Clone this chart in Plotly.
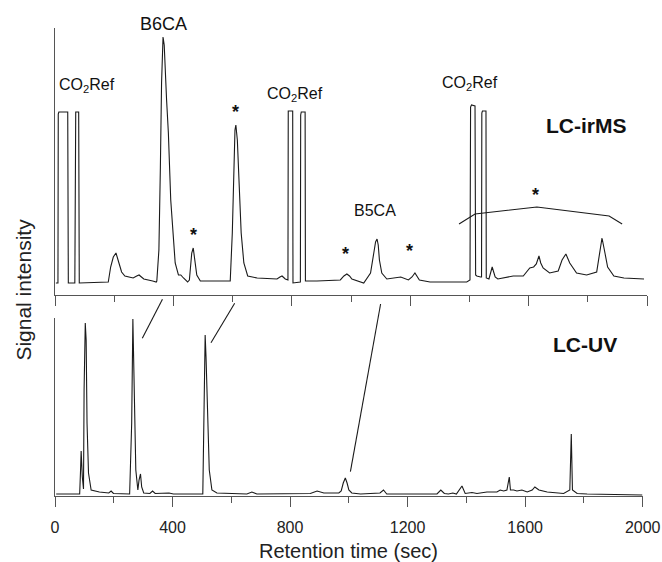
import plotly.graph_objects as go

# ---- LC-irMS trace (time in sec, signal in arbitrary units) ----
ms_time = [3, 10, 11, 13, 43, 45, 67, 68, 70, 80, 82,
           180, 188, 197, 206, 216, 225, 236, 250, 264, 276, 284, 292, 300, 330, 342,
           344, 351, 356, 360, 365, 369, 377, 383, 391, 398, 406, 417, 425, 434, 448,
           454, 459, 462, 467, 473, 479, 491, 592,
           599, 604, 608, 611, 616, 622, 629, 638, 651, 683, 750, 760, 767, 778, 787,
           788, 803, 804, 829, 830, 832, 845, 846, 885, 964, 976, 986, 995, 1003, 1043, 1066, 1077, 1083, 1088,
           1092, 1096, 1104, 1121, 1155, 1168, 1194, 1206, 1216, 1223, 1231, 1267, 1391, 1402,
           1404, 1407, 1419, 1421, 1425, 1438, 1441, 1442, 1444, 1456, 1457, 1466, 1472, 1477, 1482,
           1487, 1496, 1525, 1548, 1582, 1604, 1617, 1626, 1635, 1641, 1649, 1671, 1700, 1713, 1726,
           1733, 1739, 1762, 1796, 1830, 1840, 1848, 1856, 1867, 1888, 1922, 1990]
ms_signal = [12, 12, 181, 183, 183, 12, 12, 180, 183, 183, 12,
             13, 28, 38, 42, 32, 23, 19, 18, 17, 19, 20, 18, 16, 14, 13,
             14, 45, 128, 212, 258, 250, 195, 162, 95, 62, 32, 20, 20, 17, 13,
             15, 32, 42, 47, 35, 20, 14, 14,
             62, 128, 165, 170, 155, 112, 62, 32, 19, 17, 16, 18, 19, 16, 15,
             184, 184, 12, 13, 180, 183, 183, 14, 14, 15, 19, 21, 19, 16, 12, 22, 42, 53, 56,
             50, 35, 22, 16, 17, 18, 15, 18, 22, 19, 15, 13, 13, 15,
             188, 190, 189, 20, 19, 18, 18, 182, 184, 184, 17, 16, 22, 28, 23,
             18, 16, 18, 19, 19, 27, 28, 31, 39, 32, 27, 22, 24, 35, 41,
             37, 32, 22, 20, 23, 42, 57, 45, 28, 19, 17, 16]

# ---- LC-UV trace ----
uv_time = [4, 84, 87, 89, 93, 97, 99, 101, 103, 106, 109, 114, 123, 151, 183, 191, 199,
           254, 261, 265, 269, 275, 282, 286, 291, 295, 302, 323, 332, 341, 388, 403,
           503, 506, 511, 514, 519, 525, 534, 551, 653, 670, 687, 869, 892, 915, 966,
           974, 981, 988, 994, 1000, 1010, 1040, 1106, 1118, 1129, 1300, 1313, 1325,
           1339, 1354, 1366, 1385, 1396, 1419, 1436, 1470, 1504, 1515, 1527, 1538, 1546,
           1550, 1561, 1572, 1589, 1607, 1624, 1633, 1647, 1675, 1731, 1752, 1757, 1761,
           1777, 1811, 1999]
uv_signal = [2, 2, 26, 45, 19, 7, 106, 169, 173, 156, 73, 23, 6, 4, 3, 5, 2.5,
             2, 73, 177, 106, 26, 6, 16, 22, 9, 3, 2.5, 5, 2.5, 3, 2,
             2, 73, 161, 139, 73, 26, 6, 3, 2, 4, 2, 2.5, 5, 3, 3,
             5, 13, 18, 13, 6, 3, 2, 3, 6, 2, 2, 6, 2.5,
             2, 3, 2, 10, 2.5, 3.5, 2.5, 4, 4, 6, 5, 6, 19,
             6, 6, 5, 6, 4, 6, 9, 6, 4, 2.5, 6, 62, 6,
             2.5, 2, 1]

# ---- annotations ----
label_text = ["CO<sub>2</sub>Ref", "CO<sub>2</sub>Ref", "B5CA", "CO<sub>2</sub>Ref"]
label_time = [107, 812, 1081, 1402]
label_level = [210, 201, 84.5, 211.5]

top_label_text = "B6CA"
top_label_time = 367

star_time = [467, 611, 980, 1199, 1624]
star_level = [65, 188, 46, 49, 105]

bracket_time = [1365, 1419, 1628, 1872, 1916]
bracket_level = [71, 81, 88, 79, 71]

# connectors: irMS retention time (top) -> UV retention time (bottom)
link_ms_time = [363, 607, 1100]
link_uv_time = [295, 527, 998]
link_top = [0.4203, 0.4118, 0.4103]
link_bottom = [0.3370, 0.3276, 0.0519]

x_ticks = [0, 400, 800, 1200, 1600, 2000]

FONT = "Liberation Sans, Arial, sans-serif"
LINE = "#1a1a1a"
AXIS = "#555555"

fig = go.Figure()
fig.add_trace(go.Scatter(x=ms_time, y=ms_signal, mode="lines", xaxis="x2", yaxis="y2",
                         line=dict(color=LINE, width=1.1), hoverinfo="skip", showlegend=False))
fig.add_trace(go.Scatter(x=uv_time, y=uv_signal, mode="lines", xaxis="x", yaxis="y",
                         line=dict(color=LINE, width=1.1), hoverinfo="skip", showlegend=False))
fig.add_trace(go.Scatter(x=bracket_time, y=bracket_level, mode="lines", xaxis="x2", yaxis="y2",
                         line=dict(color=LINE, width=1.1), hoverinfo="skip", showlegend=False))

C = dict(xanchor="center", yanchor="middle", showarrow=False)
annotations = []
for t, x, y in zip(label_text, label_time, label_level):
    annotations.append(dict(C, text=t, x=x, y=y, xref="x2", yref="y2",
                            font=dict(family=FONT, size=16, color="#111")))
annotations.append(dict(C, text=top_label_text, x=top_label_time, y=1.0085, xref="x2", yref="paper",
                        font=dict(family=FONT, size=18, color="#111")))
for x, y in zip(star_time, star_level):
    annotations.append(dict(C, text="<b>*</b>", x=x, y=y, xref="x2", yref="y2",
                            yshift=-5, font=dict(family=FONT, size=18, color="#111")))
annotations.append(dict(C, text="<b>LC-irMS</b>", x=1796, y=170, xref="x2", yref="y2",
                        font=dict(family=FONT, size=21, color="#111")))
annotations.append(dict(C, text="<b>LC-UV</b>", x=1805, y=152, xref="x", yref="y",
                        font=dict(family=FONT, size=21, color="#111")))
annotations.append(dict(C, text="Signal intensity", x=-0.0532, y=0.44, xref="paper", yref="paper",
                        textangle=-90, font=dict(family=FONT, size=21, color="#222")))
annotations.append(dict(C, text="Retention time (sec)", x=0.4958, y=-0.1175, xref="paper", yref="paper",
                        font=dict(family=FONT, size=20, color="#222")))

shapes = []
for x0, x1, y0, y1 in zip(link_ms_time, link_uv_time, link_top, link_bottom):
    shapes.append(dict(type="line", xref="x2", yref="paper", x0=x0, x1=x1, y0=y0, y1=y1,
                       line=dict(color=LINE, width=1.1)))

common_x = dict(range=[0, 2000], showline=True, linecolor=AXIS, linewidth=1.2, showgrid=False,
                zeroline=False, ticks="outside", ticklen=10, tickcolor=AXIS, tickwidth=1.2,
                tickvals=x_ticks, fixedrange=True, automargin=False,
                minor=dict(ticks="outside", ticklen=6, tickcolor=AXIS, tickwidth=1.2,
                           tick0=0, dtick=200, showgrid=False))
common_y = dict(showline=True, linecolor=AXIS, linewidth=1.2, showgrid=False, zeroline=False,
                ticks="", showticklabels=False, fixedrange=True, automargin=False)

fig.update_layout(
    width=662, height=562,
    autosize=False,
    margin=dict(l=55, r=15, t=28, b=66, pad=0),
    paper_bgcolor="white", plot_bgcolor="white",
    xaxis=dict(common_x, domain=[0, 0.9927], anchor="y", showticklabels=True,
               ticktext=[str(v) for v in x_ticks], ticklabelstandoff=7,
               tickfont=dict(family=FONT, size=16, color="#222")),
    yaxis=dict(common_y, domain=[0, 0.3803], range=[0, 178], anchor="x"),
    xaxis2=dict(common_x, domain=[0, 1], anchor="y2", showticklabels=False),
    yaxis2=dict(common_y, domain=[0.4295, 1], range=[0, 267], anchor="x2"),
    annotations=annotations,
    shapes=shapes,
    showlegend=False,
)

fig.write_html("out.html", config={"responsive": False, "displayModeBar": False},
               post_script="document.body.style.margin='0';document.body.style.overflow='hidden';")
